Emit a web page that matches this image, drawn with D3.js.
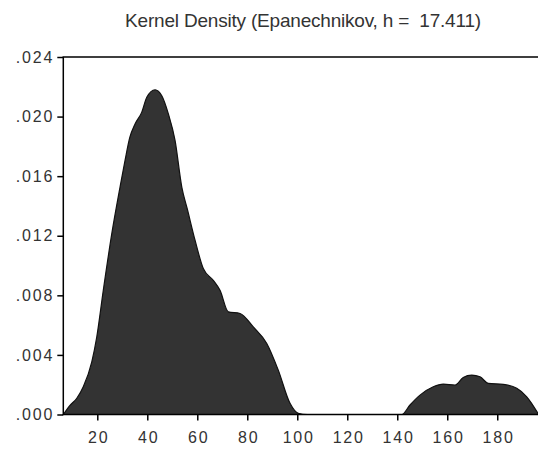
<!DOCTYPE html>
<html>
<head>
<meta charset="utf-8">
<script src="https://cdn.jsdelivr.net/npm/d3@7/dist/d3.min.js"></script>
<style>
  html, body { margin: 0; padding: 0; background: #fff; }
  svg { display: block; }
</style>
</head>
<body>
<div id="chart"></div>
<script>
const title = "Kernel Density (Epanechnikov, h =  17.411)";

// x grid and estimated density
const xValues = [6.4, 9, 11.8, 14.4, 17.8, 19.8, 22.4, 25.8, 29.1, 31.1, 33, 35.1, 37.8, 39.8, 43.1,
  45.8, 48.4, 51.1, 53.8, 56, 59.1, 62.4, 66.4, 69.1, 72.4, 77.1, 82.4, 87.8, 92.4, 97.1, 100.4,
  104, 120, 138, 141.8, 145.1, 149.1, 154.4, 158.4, 163.1, 166.4, 169.8, 173.1, 176.4, 182.4,
  187.8, 191.8, 196.3];
const density = [0, 0.0006, 0.00109, 0.00186, 0.00354, 0.00522, 0.00834, 0.01214, 0.01527, 0.01706, 0.0186, 0.0195, 0.0203, 0.0213, 0.0218,
  0.0214, 0.0202, 0.0184, 0.01527, 0.0138, 0.0117, 0.0098, 0.00901, 0.00834, 0.00689, 0.00678, 0.00588, 0.00477, 0.00298, 0.00075, 0.00008,
  0, 0, 0, 0, 0.00064, 0.0013, 0.00186, 0.00204, 0.00198, 0.00249, 0.00265, 0.00253, 0.00209, 0.00202,
  0.00176, 0.00119, 0.00008];

const xTicks = [20, 40, 60, 80, 100, 120, 140, 160, 180];
const yTicks = [0, 0.004, 0.008, 0.012, 0.016, 0.020, 0.024];

const width = 538;
const height = 450;
const margin = { top: 57, right: 0, bottom: 35.5, left: 63.3 };

const svg = d3.select("#chart")
  .append("svg")
  .attr("width", width)
  .attr("height", height)
  .attr("viewBox", `0 0 ${width} ${height}`);

const x = d3.scaleLinear()
  .domain([6.4, 196.3])
  .range([margin.left, width - margin.right]);

const y = d3.scaleLinear()
  .domain([0, 0.024])
  .range([height - margin.bottom, margin.top]);

const data = xValues.map((v, i) => ({ x: v, d: density[i] }));

const area = d3.area()
  .x((d) => x(d.x))
  .y0(y(0))
  .y1((d) => y(d.d))
  .curve(d3.curveMonotoneX);

svg.append("path")
  .datum(data)
  .attr("d", area)
  .attr("fill", "#333333")
  .attr("stroke", "#111")
  .attr("stroke-width", 1.2);

// frame: top line runs off the right edge
svg.append("rect")
  .attr("x", margin.left)
  .attr("y", margin.top)
  .attr("width", width - margin.left + 5)
  .attr("height", y(0) - margin.top)
  .attr("fill", "none")
  .attr("stroke", "#000")
  .attr("stroke-width", 1.5);

svg.append("g")
  .attr("transform", `translate(${margin.left},0)`)
  .call(d3.axisLeft(y).tickValues(yTicks).tickSize(6).tickPadding(5)
    .tickFormat((v) => d3.format(".3f")(v).replace(/^0/, "")))
  .call((g) => g.select(".domain").remove())
  .call((g) => g.selectAll(".tick line").attr("stroke", "#000").attr("stroke-width", 1.5))
  .call((g) => g.selectAll(".tick text")
    .attr("fill", "#333")
    .attr("font-family", "'Liberation Sans', Arial, sans-serif")
    .attr("font-size", 16)
    .attr("letter-spacing", 1.8)
    .attr("dx", 1.8));

svg.append("g")
  .attr("transform", `translate(0,${y(0)})`)
  .call(d3.axisBottom(x).tickValues(xTicks).tickSize(6).tickPadding(11))
  .call((g) => g.select(".domain").remove())
  .call((g) => g.selectAll(".tick line").attr("stroke", "#000").attr("stroke-width", 1.5))
  .call((g) => g.selectAll(".tick text")
    .attr("fill", "#333")
    .attr("font-family", "'Liberation Sans', Arial, sans-serif")
    .attr("font-size", 16)
    .attr("letter-spacing", 1.8)
    .attr("dx", 0.9));

svg.append("text")
  .attr("x", 303)
  .attr("y", 27)
  .attr("text-anchor", "middle")
  .attr("fill", "#333")
  .attr("font-family", "'Liberation Sans', Arial, sans-serif")
  .attr("font-size", 19)
  .attr("letter-spacing", -0.2)
  .style("white-space", "pre")
  .text(title);
</script>
</body>
</html>
